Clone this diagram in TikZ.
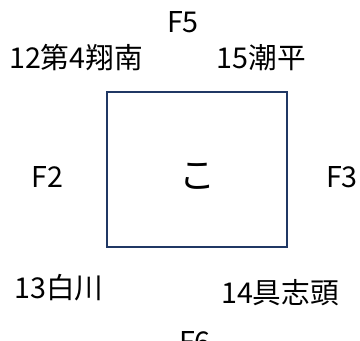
\documentclass[tikz,border=0pt]{standalone}
\usepackage{fontspec}
\setmainfont{Noto Sans CJK JP}
\usepackage{xcolor}
\usepackage{tikz}
\usetikzlibrary{positioning}

\definecolor{boxblue}{HTML}{203864}

\begin{document}
\begin{tikzpicture}[x=0.75pt,y=-0.75pt,
			label node/.style={anchor=base,inner sep=0pt,font=\fontsize{21.5}{26}\selectfont},
			main node/.style={rectangle,draw=boxblue,line width=1.8pt,minimum width=135pt,
				minimum height=116pt,inner sep=0pt,font=\fontsize{27}{32}\selectfont}]
			
			\useasboundingbox (0,0) rectangle (360,341);
			\clip (0,0) rectangle (360,341);
			
			\node[main node] (ko) at (197,169.5) {\raisebox{-14.4pt}[0pt][0pt]{こ}};
			
			\node[label node] (f5) at (183,33) {F5};
			\node[label node] (f2) at (47.5,188) {F2};
			\node[label node] (f3) at (342,188) {F3};
			\node[label node] (f6) at (195,353) {F6};
			
			\node[label node] (shonan) at (76,69) {12第4翔南};
			\node[label node] (shiohira) at (261.5,69) {15潮平};
			\node[label node] (shirakawa) at (59,299) {13白川};
			\node[label node] (gushichan) at (280,304) {14具志頭};
		\end{tikzpicture}
\end{document}
